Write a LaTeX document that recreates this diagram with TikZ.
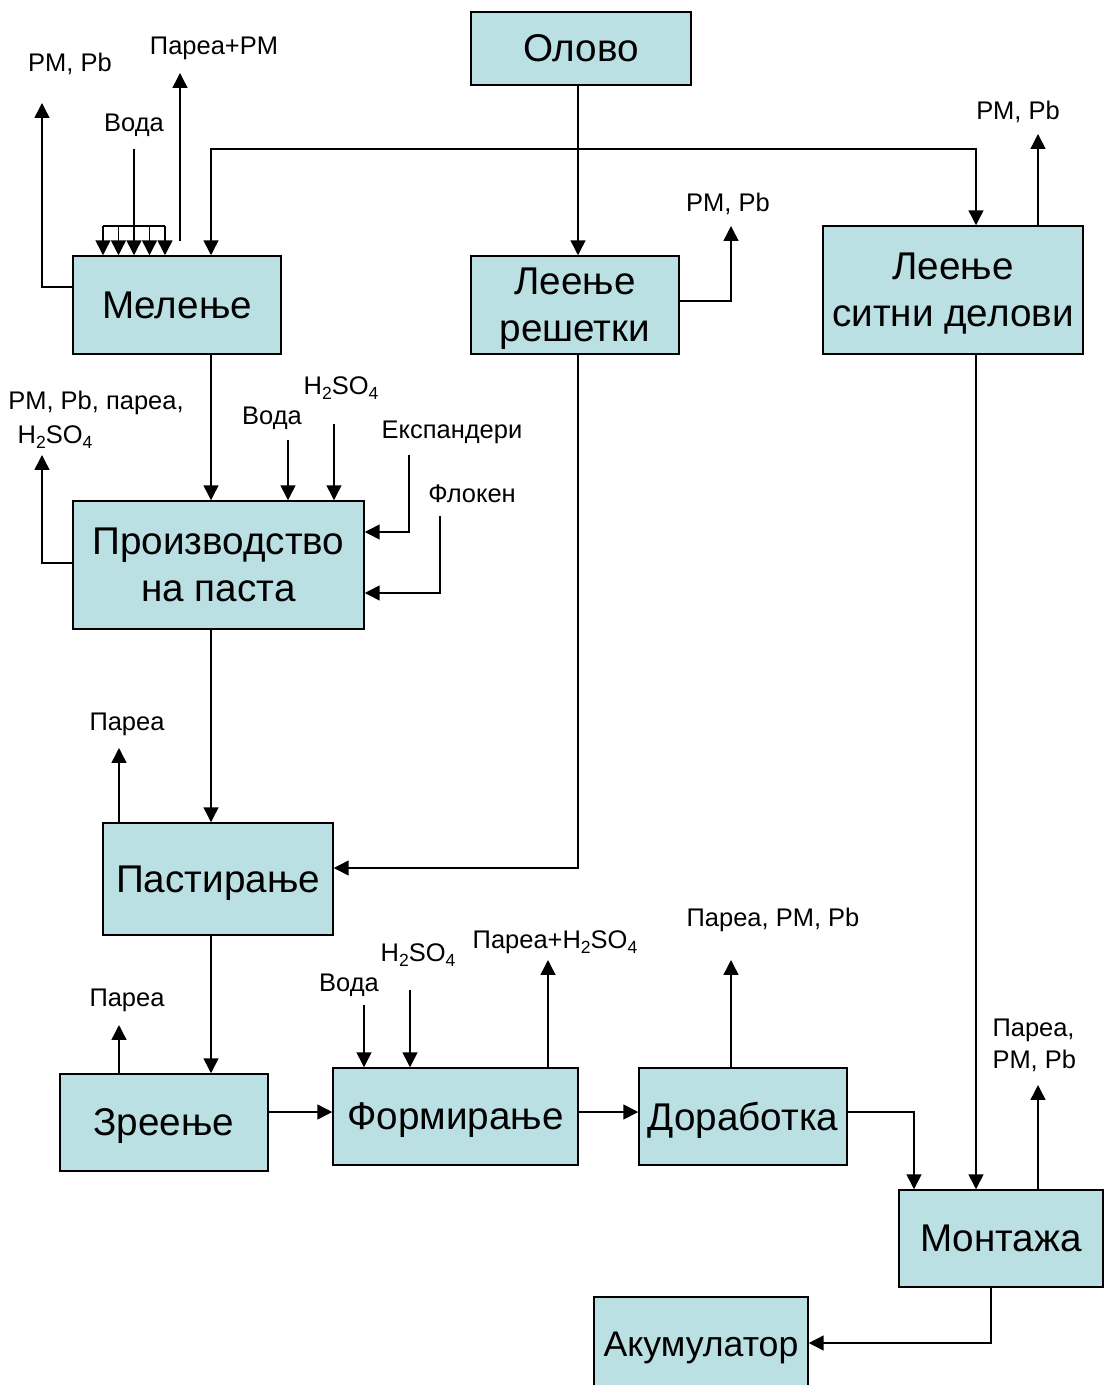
\documentclass[tikz,border=0pt]{standalone}
\usepackage{fontspec}
\setmainfont{Liberation Sans}
\usetikzlibrary{arrows.meta}
\definecolor{boxfill}{RGB}{186,224,227}
\newcommand\bigf{\fontsize{22}{26.6}\selectfont}
\newcommand\smf{\fontsize{14.5}{17.5}\selectfont}
\newcommand\sbs[1]{\raisebox{-0.4ex}{\fontsize{10}{10}\selectfont#1}}
\tikzset{
  box/.style 2 args={draw, fill=boxfill, minimum width=#1*0.02cm, minimum height=#2*0.02cm,
    inner sep=2pt, font=\bigf, align=center, text depth=0pt},
  lbl/.style={inner sep=1pt, font=\smf},
  flow/.style={->},
}
\begin{document}
\begin{tikzpicture}[x=0.02cm, y=-0.02cm, line width=0.85pt,
  >={Triangle[length=8.5pt,width=8.5pt]}]
\useasboundingbox (0,0) rectangle (1104,1385);
\clip (0,0) rectangle (1104,1385);

% boxes
\node[box={220}{73}] (olovo) at (581,48.5) {Олово};
\node[box={208}{98}] (mel) at (177,305) {Мелење};
\node[box={208}{98}] (lr) at (575,305) {Леење\\решетки};
\node[box={260}{128}] (ls) at (953,290) {Леење\\ситни делови};
\node[box={291}{128}] (proiz) at (218.5,565) {Производство\\на паста};
\node[box={230}{112}] (past) at (218,879) {Пастирање};
\node[box={208}{97}] (zre) at (164,1122.5) {Зреење};
\node[box={245}{97}] (form) at (455.5,1116.5) {Формирање};
\node[box={208}{97}] (dor) at (743,1116.5) {Доработка};
\node[box={204}{97}] (mont) at (1001,1238.5) {Монтажа};
\node[box={214}{94}, inner xsep=0pt, font=\fontsize{20.3}{24}\selectfont] (akum) at (701,1344) {Акумулатор};

% labels
\node[lbl] (l1) at (70,64) {PM, Pb};
\node[lbl] (l2) at (214,48) {Пареа+PM};
\node[lbl] (l3) at (134,125) {Вода};
\node[lbl] (l4) at (96,403) {PM, Pb, пареа,};
\node[lbl] (l5) at (55,437) {H\sbs{2}SO\sbs{4}};
\node[lbl] (l6) at (272,418) {Вода};
\node[lbl] (l7) at (341,388) {H\sbs{2}SO\sbs{4}};
\node[lbl] (l8) at (452,432) {Експандери};
\node[lbl] (l9) at (472,494) {Флокен};
\node[lbl] (l10) at (127,724) {Пареа};
\node[lbl] (l11) at (728,204) {PM, Pb};
\node[lbl] (l12) at (1018,112) {PM, Pb};
\node[lbl] (l13) at (127,1000) {Пареа};
\node[lbl] (l14) at (349,985) {Вода};
\node[lbl] (l15) at (418,955) {H\sbs{2}SO\sbs{4}};
\node[lbl] (l16) at (555,942) {Пареа+H\sbs{2}SO\sbs{4}};
\node[lbl] (l17) at (773,920) {Пареа, PM, Pb};
\node[lbl, anchor=west] (l18) at (990,1030) {Пареа,};
\node[lbl, anchor=west] (l19) at (990,1061) {PM, Pb};

% free ends
\coordinate (br) at (578,149);
\coordinate (e1) at (42,103);
\coordinate (e2) at (180,73);
\coordinate (s2) at (180,241);
\coordinate (v1) at (134,149);
\coordinate (v2) at (134,226);
\coordinate (e3) at (42,455);
\coordinate (v3) at (288,440);
\coordinate (v4) at (334,424);
\coordinate (v5) at (409,455);
\coordinate (v6) at (440,516);
\coordinate (e4) at (119,748);
\coordinate (e5) at (731,226);
\coordinate (e6) at (1038,134);
\coordinate (e7) at (119,1025);
\coordinate (v7) at (364,1005);
\coordinate (v8) at (410,990);
\coordinate (e8) at (548,960);
\coordinate (e9) at (731,960);
\coordinate (e10) at (1038,1085);

% connectors
\draw[flow] (olovo.south -| br) -- (lr.north -| br);
\draw[flow] (br) -| (mel.north -| 211,0);
\draw[flow] (br) -| (ls.north -| 976,0);
\draw[flow] (mel.west |- 0,287) -| (e1);
\draw (v1) -- (v2);
\draw (103,226) -- (165,226);
\foreach \xx in {103,118.5,134,149.5,165}
  \draw[flow] (\xx,226) -- (mel.north -| \xx,0);
\draw[flow] (s2) -- (e2);
\draw[flow] (mel.south -| 211,0) -- (proiz.north -| 211,0);
\draw[flow] (proiz.west |- 0,563) -| (e3);
\draw[flow] (v3) -- (proiz.north -| v3);
\draw[flow] (v4) -- (proiz.north -| v4);
\draw[flow] (v5) |- (proiz.east |- 0,532);
\draw[flow] (v6) |- (proiz.east |- 0,593);
\draw[flow] (proiz.south -| 211,0) -- (past.north -| 211,0);
\draw[flow] (past.north -| e4) -- (e4);
\draw[flow] (lr.south -| 578,0) |- (past.east |- 0,868);
\draw[flow] (lr.east |- 0,301) -| (e5);
\draw[flow] (ls.north -| e6) -- (e6);
\draw[flow] (ls.south -| 976,0) -- (mont.north -| 976,0);
\draw[flow] (past.south -| 211,0) -- (zre.north -| 211,0);
\draw[flow] (zre.north -| e7) -- (e7);
\draw[flow] (zre.east |- 0,1112) -- (form.west |- 0,1112);
\draw[flow] (v7) -- (form.north -| v7);
\draw[flow] (v8) -- (form.north -| v8);
\draw[flow] (form.north -| e8) -- (e8);
\draw[flow] (form.east |- 0,1112) -- (dor.west |- 0,1112);
\draw[flow] (dor.north -| e9) -- (e9);
\draw[flow] (dor.east |- 0,1112) -| (mont.north -| 914,0);
\draw[flow] (mont.north -| e10) -- (e10);
\draw[flow] (mont.south -| 991,0) |- (akum.east |- 0,1343);
\end{tikzpicture}
\end{document}
